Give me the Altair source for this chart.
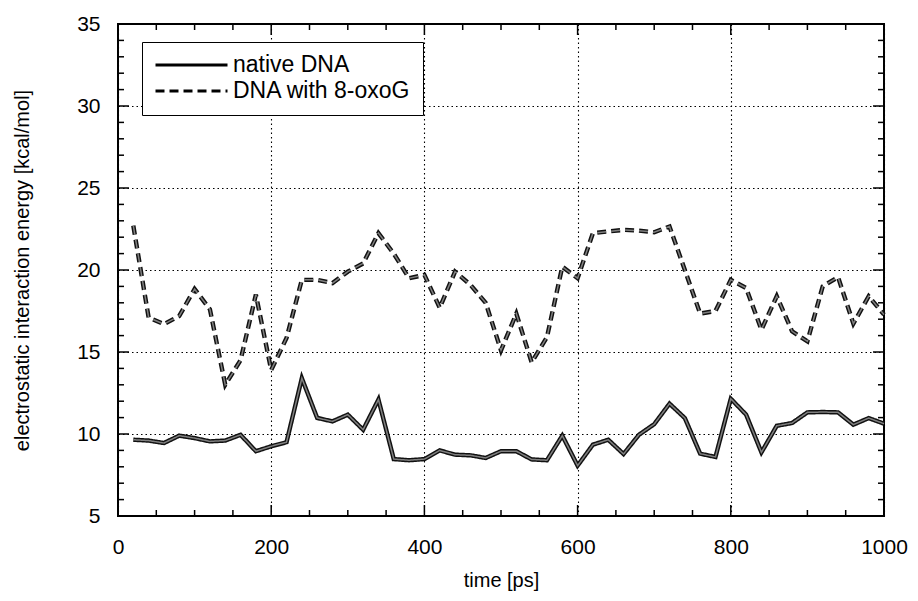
import altair as alt
import pandas as pd

# ---- data ----
time_ps = [20, 40, 60, 80, 100, 120, 140, 160, 180, 200,
           220, 240, 260, 280, 300, 320, 340, 360, 380, 400,
           420, 440, 460, 480, 500, 520, 540, 560, 580, 600,
           620, 640, 660, 680, 700, 720, 740, 760, 780, 800,
           820, 840, 860, 880, 900, 920, 940, 960, 980, 1000]

native_dna = [9.65, 9.6, 9.45, 9.9, 9.75, 9.55, 9.6, 9.95, 8.95, 9.25,
              9.5, 13.4, 10.98, 10.77, 11.18, 10.26, 12.1, 8.47, 8.4, 8.47,
              9.0, 8.74, 8.7, 8.54, 8.95, 8.95, 8.45, 8.4, 9.9, 8.07,
              9.35, 9.65, 8.78, 9.95, 10.6, 11.85, 10.97, 8.8, 8.6, 12.15,
              11.18, 8.88, 10.5, 10.67, 11.32, 11.34, 11.32, 10.57, 10.97, 10.63]

oxog_dna = [22.7, 17.1, 16.7, 17.2, 18.84, 17.6, 13.0, 14.5, 18.5, 13.9,
            15.85, 19.4, 19.4, 19.2, 19.9, 20.4, 22.25, 21.0, 19.5, 19.7,
            17.7, 19.9, 19.1, 18.0, 15.1, 17.34, 14.37, 15.9, 20.2, 19.5,
            22.25, 22.35, 22.45, 22.4, 22.3, 22.65, 20.0, 17.34, 17.5, 19.4,
            18.9, 16.36, 18.4, 16.26, 15.65, 19.0, 19.57, 16.73, 18.4, 17.28]

series_names = ["native DNA", "DNA with 8-oxoG"]

x_major = [0, 200, 400, 600, 800, 1000]
x_minor = [50, 100, 150, 250, 300, 350, 450, 500, 550, 650, 700, 750, 850, 900, 950]
y_major = [5, 10, 15, 20, 25, 30, 35]
y_minor = [6, 7, 8, 9, 11, 12, 13, 14, 16, 17, 18, 19, 21, 22, 23, 24,
           26, 27, 28, 29, 31, 32, 33, 34]

# ---- tables ----
df = pd.DataFrame({
    "time": time_ps * 2,
    "energy": native_dna + oxog_dna,
    "series": [series_names[0]] * len(time_ps) + [series_names[1]] * len(time_ps),
})

W, H = 766, 492
FONT = "Liberation Sans"

x_scale = alt.Scale(domain=[0, 1000], nice=False, zero=False)
y_scale = alt.Scale(domain=[5, 35], nice=False, zero=False)

x_axis = alt.Axis(values=x_major, title="time [ps]", grid=True, ticks=False,
                  tickSize=0, domain=False, labelPadding=20, titlePadding=13,
                  labelFlush=False, format="d")
y_axis = alt.Axis(values=y_major, title="electrostatic interaction energy [kcal/mol]",
                  grid=True, ticks=False, tickSize=0, domain=False,
                  labelPadding=18, titlePadding=44, labelFlush=False, format="d")

x_enc = alt.X("time:Q", scale=x_scale, axis=x_axis)
y_enc = alt.Y("energy:Q", scale=y_scale, axis=y_axis)

dash_enc = alt.StrokeDash(
    "series:N",
    scale=alt.Scale(domain=series_names, range=[[1, 0], [9, 5]]),
    legend=alt.Legend(title=None, orient="none", legendX=24, legendY=18,
                      symbolType="stroke", symbolSize=5184, symbolStrokeWidth=3,
                      symbolStrokeColor="black", labelFontSize=23, labelFont=FONT,
                      labelColor="black", labelOffset=4, labelLimit=400,
                      clipHeight=22, padding=12, rowPadding=3,
                      strokeColor="black", fillColor="white"),
)

base = alt.Chart(df).encode(x=x_enc, y=y_enc, strokeDash=dash_enc)
outer = base.mark_line(color="#111111", strokeWidth=4.4)
inner = base.mark_line(color="#808080", strokeWidth=1.5)


def x_ticks(vals, length):
    d = pd.DataFrame({"time": vals})
    c = alt.Chart(d).mark_rule(color="black", strokeWidth=1.5)
    bottom = c.encode(x=x_enc, y=alt.value(H), y2=alt.value(H - length))
    top = c.encode(x=x_enc, y=alt.value(0), y2=alt.value(length))
    return [bottom, top]


def y_ticks(vals, length):
    d = pd.DataFrame({"energy": vals})
    c = alt.Chart(d).mark_rule(color="black", strokeWidth=1.5)
    left = c.encode(y=y_enc, x=alt.value(0), x2=alt.value(length))
    right = c.encode(y=y_enc, x=alt.value(W), x2=alt.value(W - length))
    return [left, right]


tick_layers = (x_ticks(x_major, 11) + x_ticks(x_minor, 6)
               + y_ticks(y_major, 11) + y_ticks(y_minor, 6))

chart = alt.layer(outer, inner, *tick_layers).properties(
    width=W, height=H,
    background="white",
    autosize=alt.AutoSizeParams(type="none"),
    padding={"left": 110, "right": 26, "top": 16, "bottom": 77},
).configure_view(
    stroke="black", strokeWidth=2
).configure_axis(
    labelFont=FONT, labelFontSize=21, labelColor="black",
    titleFont=FONT, titleFontSize=20, titleFontWeight="normal", titleColor="black",
    gridColor="black", gridDash=[1.5, 3], gridOpacity=1, gridWidth=1.1,
)

chart.save("out.html", embed_options={"renderer": "svg", "actions": False})
